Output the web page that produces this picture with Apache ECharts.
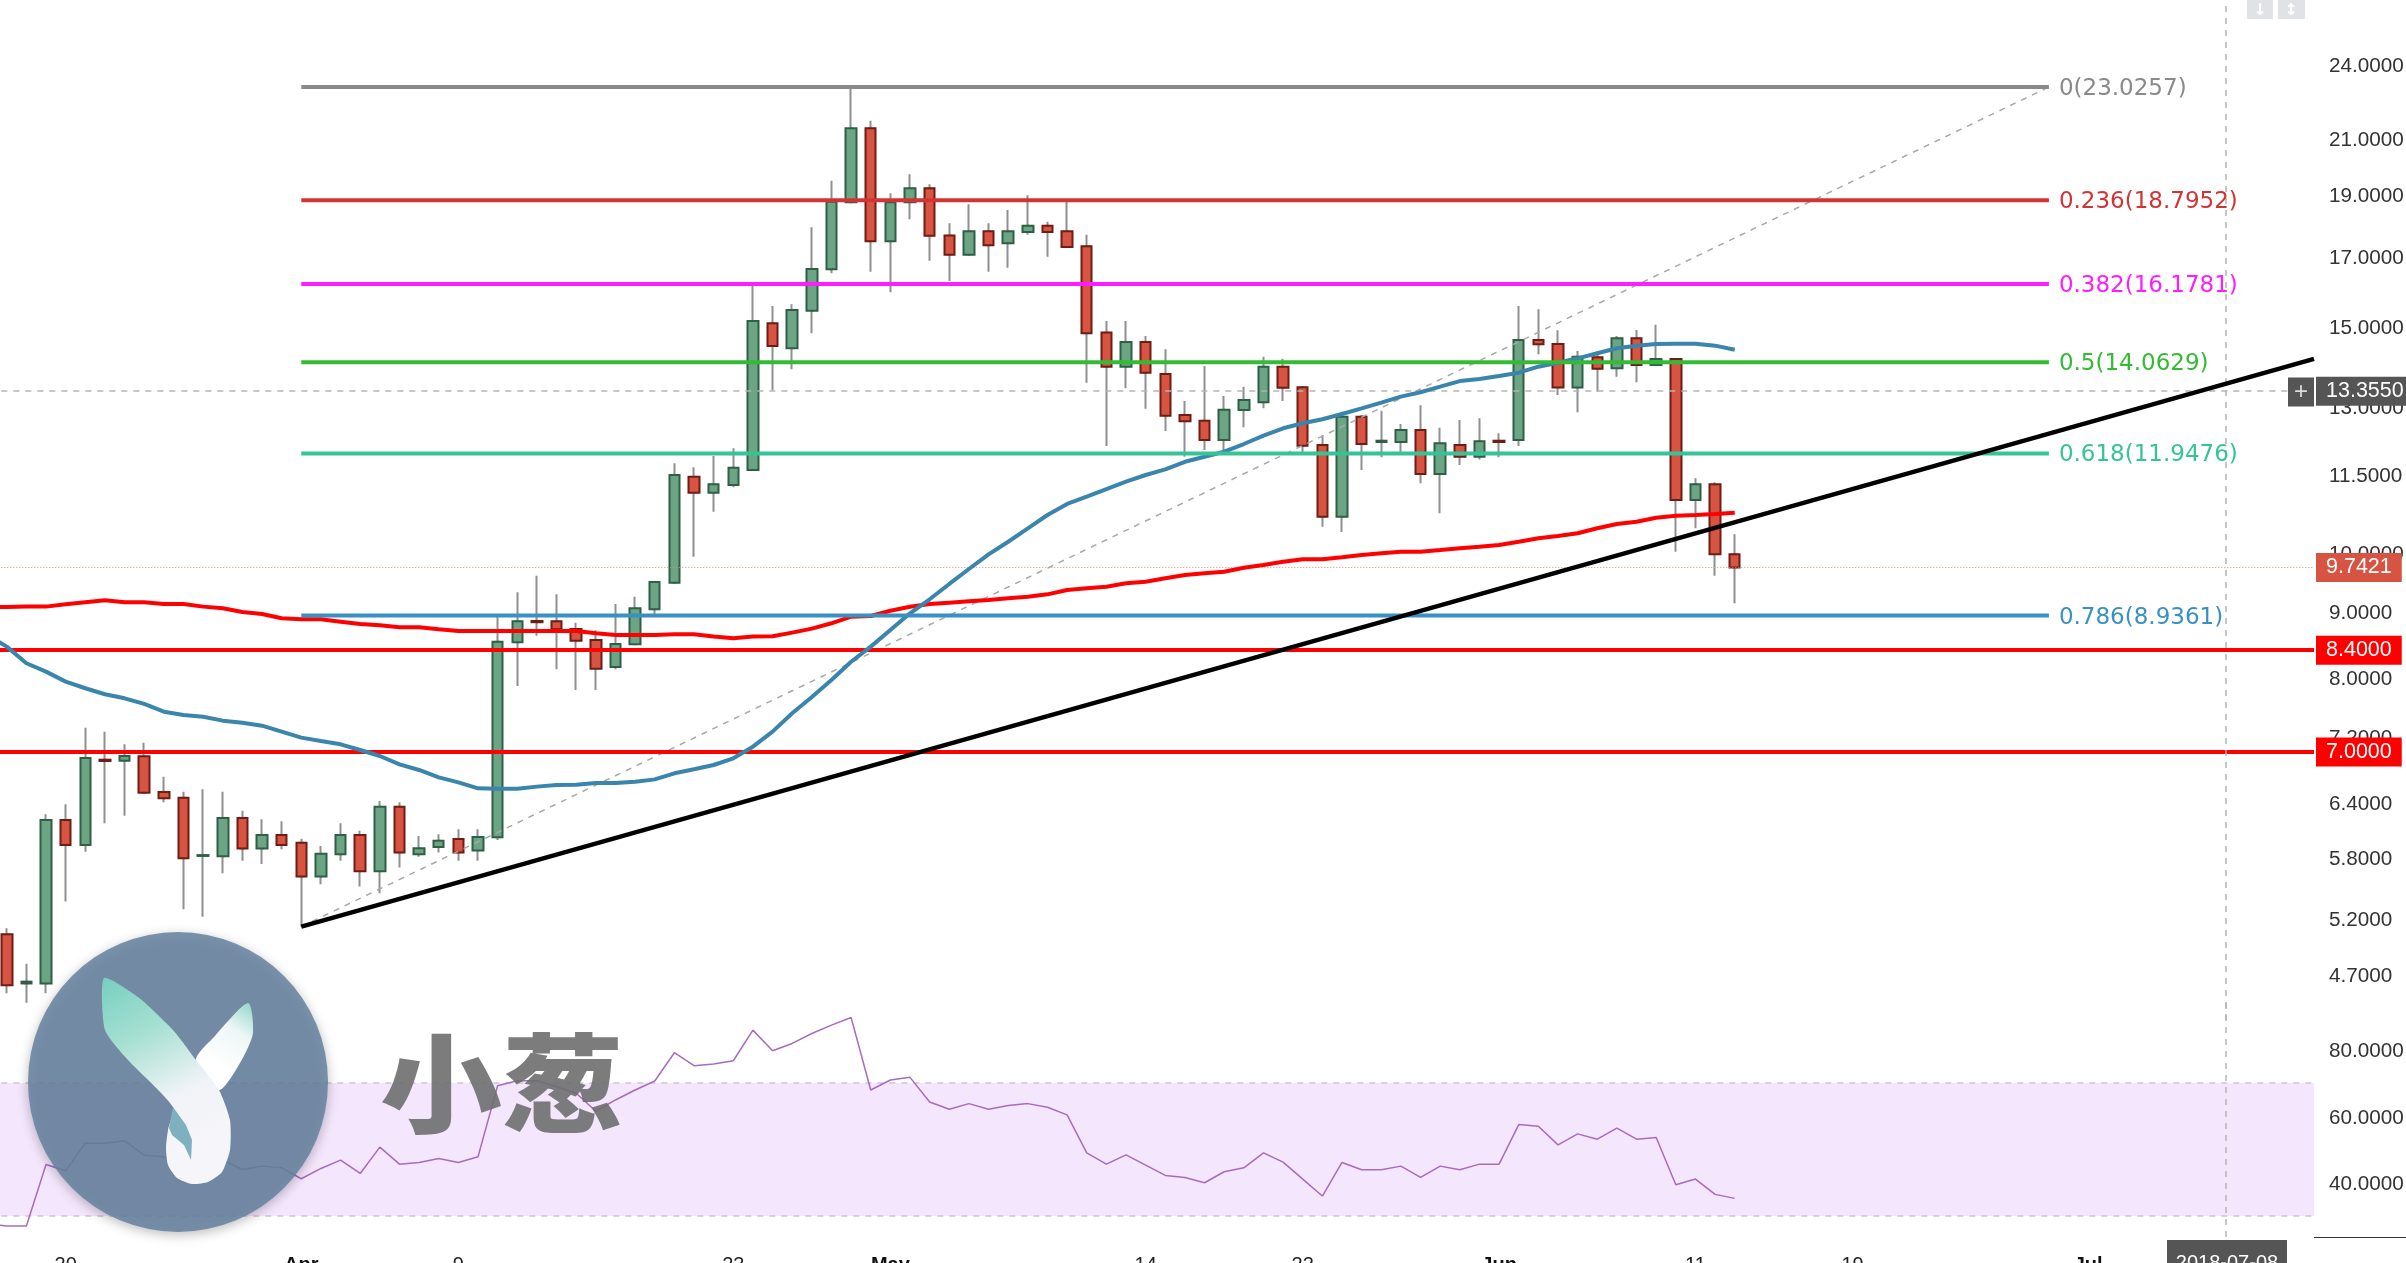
<!DOCTYPE html>
<html><head><meta charset="utf-8">
<style>html,body{margin:0;padding:0;background:#fff;overflow:hidden}#c{width:2406px;height:1263px}</style>
<script src="https://cdn.jsdelivr.net/npm/echarts@6/dist/echarts.min.js"></script>
</head><body><div id="c"></div>
<script>
const categories=[
'2018-03-16','2018-03-17','2018-03-18','2018-03-19','2018-03-20','2018-03-21','2018-03-22','2018-03-23','2018-03-24','2018-03-25','2018-03-26','2018-03-27','2018-03-28','2018-03-29','2018-03-30','2018-03-31',
'2018-04-01','2018-04-02','2018-04-03','2018-04-04','2018-04-05','2018-04-06','2018-04-07','2018-04-08','2018-04-09','2018-04-10','2018-04-11','2018-04-12','2018-04-13','2018-04-14','2018-04-15','2018-04-16','2018-04-17','2018-04-18','2018-04-19','2018-04-20','2018-04-21','2018-04-22','2018-04-23','2018-04-24','2018-04-25','2018-04-26','2018-04-27','2018-04-28','2018-04-29','2018-04-30',
'2018-05-01','2018-05-02','2018-05-03','2018-05-04','2018-05-05','2018-05-06','2018-05-07','2018-05-08','2018-05-09','2018-05-10','2018-05-11','2018-05-12','2018-05-13','2018-05-14','2018-05-15','2018-05-16','2018-05-17','2018-05-18','2018-05-19','2018-05-20','2018-05-21','2018-05-22','2018-05-23','2018-05-24','2018-05-25','2018-05-26','2018-05-27','2018-05-28','2018-05-29','2018-05-30','2018-05-31',
'2018-06-01','2018-06-02','2018-06-03','2018-06-04','2018-06-05','2018-06-06','2018-06-07','2018-06-08','2018-06-09','2018-06-10','2018-06-11','2018-06-12','2018-06-13','2018-06-14','2018-06-15','2018-06-16','2018-06-17','2018-06-18','2018-06-19','2018-06-20','2018-06-21','2018-06-22','2018-06-23','2018-06-24','2018-06-25','2018-06-26','2018-06-27','2018-06-28','2018-06-29','2018-06-30',
'2018-07-01','2018-07-02','2018-07-03','2018-07-04','2018-07-05','2018-07-06','2018-07-07','2018-07-08','2018-07-09','2018-07-10','2018-07-11','2018-07-12'];
const tickDates=['2018-03-20','2018-04-01','2018-04-09','2018-04-23','2018-05-01','2018-05-14','2018-05-22','2018-06-01','2018-06-11','2018-06-19','2018-07-01'];
const tickTexts=['20','Apr','9','23','May','14','22','Jun','11','19','Jul'];
const priceTicks=[24,21,19,17,15,13,11.5,10,9,8,7.2,6.4,5.8,5.2,4.7];
const rsiTicks=[80,60,40];

const opens=[null,5.05,4.625,4.625,6.198,5.926,6.904,6.891,6.947,6.516,6.45,5.811,5.808,6.22,5.888,6.034,
5.951,5.6,5.828,6.034,5.654,6.347,5.828,5.906,5.991,5.867,6.009,8.52,8.851,8.846,8.725,8.553,8.151,8.49,9.037,9.479,11.459,11.135,11.29,11.597,15.082,14.422,15.425,16.612,18.73,21.383,
17.465,18.73,19.206,17.65,17.052,17.782,17.405,17.76,17.962,17.782,17.31,14.832,13.954,14.585,13.773,12.798,12.668,12.238,12.912,13.093,13.954,13.45,12.129,10.667,12.759,12.194,12.194,12.459,11.515,12.129,11.876,
12.222,12.238,14.638,14.533,13.446,14.19,13.913,14.682,13.996,14.147,10.991,11.305,9.976];
const closes=[null,4.61,4.64,6.198,5.926,6.925,6.888,6.95,6.508,6.443,5.787,5.82,6.22,5.888,6.034,5.926,
5.6,5.834,6.034,5.654,6.347,5.846,5.892,5.972,5.846,6.012,8.529,8.846,8.831,8.72,8.544,8.126,8.494,9.054,9.49,11.494,11.135,11.305,11.645,15.144,14.481,15.444,16.622,18.75,21.383,17.465,
18.73,19.206,17.643,17.052,17.782,17.342,17.782,17.962,17.76,17.29,14.814,13.954,14.585,13.805,12.782,12.655,12.238,12.919,13.147,13.954,13.439,12.113,10.667,12.759,12.15,12.222,12.459,11.515,12.165,11.876,12.209,
12.194,14.638,14.525,13.446,14.206,13.904,14.682,13.996,14.147,10.991,11.305,9.972,9.7421];
const lows=[null,4.545,4.467,4.545,5.355,5.855,6.161,6.245,6.508,6.398,5.281,5.212,5.634,5.762,5.728,5.881,
5.12,5.524,5.762,5.501,5.436,5.691,5.804,5.846,5.762,5.762,5.98,7.879,8.621,8.117,7.822,7.822,8.117,8.477,8.919,9.47,9.93,10.762,11.244,11.59,13.384,13.889,14.814,16.495,18.73,16.542,
15.942,18.168,16.869,16.269,17.052,16.542,16.661,17.676,16.991,17.29,13.561,12.106,13.425,12.942,12.437,11.876,12.021,11.95,12.52,12.952,13.123,11.95,10.478,10.378,11.597,11.863,11.95,11.324,10.732,11.701,11.82,
11.863,12.106,14.266,13.264,12.86,13.344,13.707,13.57,13.996,10.02,10.448,9.599,9.136];
const highs=[null,5.105,4.79,6.261,6.374,7.311,7.259,7.097,7.117,6.697,6.519,6.548,6.519,6.301,6.205,6.184,
5.994,5.916,6.161,6.08,6.412,6.398,6.023,6.042,6.095,6.095,8.919,9.316,9.599,9.283,8.824,8.706,9.124,9.244,9.495,11.737,11.653,11.891,12.057,16.125,15.555,15.602,17.911,19.468,23.0257,21.677,
19.035,19.693,19.344,18.039,18.661,18.039,18.472,18.966,18.09,18.774,17.676,15.144,15.144,14.744,14.396,13.123,13.971,13.24,13.464,14.206,14.155,13.47,12.348,12.873,12.798,12.896,12.594,13.021,12.51,12.683,12.722,
12.385,15.555,15.463,14.894,14.353,14.335,14.744,14.903,15.045,14.16,11.426,11.344,10.336];

const maRed=[9.07,9.075,9.081,9.081,9.119,9.152,9.184,9.152,9.152,9.124,9.124,9.081,9.054,8.994,8.963,8.893,
8.877,8.877,8.84,8.803,8.782,8.751,8.751,8.72,8.694,8.694,8.694,8.694,8.694,8.694,8.694,8.658,8.632,8.632,8.632,8.642,8.642,8.607,8.581,8.607,8.612,8.668,8.73,8.814,8.919,8.93,
9.014,9.08,9.124,9.146,9.168,9.19,9.218,9.244,9.283,9.355,9.384,9.41,9.468,9.496,9.554,9.61,9.64,9.667,9.737,9.783,9.841,9.883,9.883,9.919,9.96,9.99,10.02,10.02,10.05,10.081,10.11,
10.14,10.2,10.262,10.305,10.355,10.448,10.529,10.572,10.648,10.686,10.7,10.72,10.744];
const maBlue=[8.632,8.453,8.205,8.083,7.94,7.846,7.762,7.706,7.629,7.524,7.48,7.457,7.404,7.377,7.338,7.26,
7.182,7.139,7.097,7.025,6.95,6.847,6.778,6.689,6.63,6.559,6.555,6.555,6.579,6.598,6.602,6.622,6.622,6.638,6.665,6.738,6.786,6.839,6.921,7.067,7.26,7.502,7.725,7.964,8.228,8.453,
8.71,8.973,9.201,9.457,9.714,9.972,10.2,10.448,10.7,10.913,11.056,11.205,11.357,11.494,11.611,11.77,11.876,11.984,12.15,12.333,12.497,12.609,12.7,12.822,12.952,13.084,13.225,13.33,13.464,13.6,13.649,
13.723,13.805,13.954,14.055,14.165,14.293,14.422,14.49,14.533,14.541,14.541,14.49,14.386];
const rsi=[27.6,27.0,27.0,45.5,43.6,51.9,51.9,52.6,48.3,47.8,42.3,42.3,46.8,44.0,45.0,44.5,
41.2,44.3,46.8,42.8,50.7,45.6,46.1,47.3,46.1,47.8,69.2,70.7,70.7,68.9,66.9,61.5,64.9,67.9,70.6,79.1,75.2,75.7,76.7,85.9,79.7,81.9,84.9,87.4,89.7,67.9,
70.9,71.7,64.3,62.1,63.8,62.1,63.2,63.8,62.7,60.4,49.0,45.6,48.4,45.3,42.2,41.6,40.0,43.3,44.5,49.0,46.2,41.1,36.0,46.1,43.9,43.9,45.0,41.6,45.0,43.9,45.6,
45.6,57.5,57.0,51.4,54.7,53.1,56.4,53.1,53.6,39.4,41.1,36.5,35.3];

const fibRatios=['0','0.236','0.382','0.5','0.618','0.786'];
const fibLevels=[23.0257,18.7952,16.1781,14.0629,11.9476,8.9361];
const fibColors=['#8a8a8a','#d23434','#ff1cff','#33bb33','#35c496','#3990c2'];
const fibSpanDays=[0,89];          // days after 1 Apr
const fibLow=5.12;
const trendDays=[0,102.5], trendPrices=[5.12,14.15];
const levelRed=[8.4,7.0];
const lastPrice=9.7421, crossPrice=13.355, crossDate='2018-07-08';

const SANS='"Liberation Sans",Arial,sans-serif';
const ohlc=opens.map((o,i)=>o==null?['-','-','-','-']:[o,closes[i],lows[i],highs[i]]);
const bodies=opens.map((o,i)=>o==null?['-','-','-','-']:[o,closes[i],Math.min(o,closes[i]),Math.max(o,closes[i])]);
const mainAxes={xAxisIndex:0,yAxisIndex:0}, overlayAxes={xAxisIndex:2,yAxisIndex:0}, rsiAxes={xAxisIndex:1,yAxisIndex:1};
const tagLabel=(text,bg)=>({show:true,position:'end',distance:2,formatter:text,color:'#fff',backgroundColor:bg,fontFamily:SANS,fontSize:21.5,padding:[5,10,2,10]});
const yLabel=values=>({customValues:values,margin:15,color:'#333',fontFamily:SANS,fontSize:20.7,
  formatter:v=>'{a|'+Number(v).toFixed(4)+'}',
  rich:{a:{color:'#333',fontFamily:SANS,fontSize:20.7,padding:[4,0,0,0]}}});

const series=[
 {type:'candlestick',name:'wick',...mainAxes,data:ohlc,barWidth:2,z:2,silent:true,
  itemStyle:{color:'#8f8f8f',color0:'#8f8f8f',borderColor:'#8f8f8f',borderColor0:'#8f8f8f',borderWidth:2}},
 {type:'candlestick',name:'price',...mainAxes,data:bodies,barWidth:11,z:3,silent:true,
  itemStyle:{color:'#6ba583',color0:'#d75442',borderColor:'#2f5f47',borderColor0:'#6e1d14',borderWidth:2}},
 {type:'line',name:'MA red',...mainAxes,data:maRed,symbol:'none',z:5,silent:true,lineStyle:{color:'#ff0000',width:4},
  markLine:{silent:true,symbol:'none',animation:false,precision:4,data:[
    {yAxis:crossPrice,lineStyle:{color:'#b4b4b4',width:1.5,type:[6,6]},label:tagLabel(crossPrice.toFixed(4),'#555555')},
    {yAxis:lastPrice,lineStyle:{color:'#e8877a',width:1,type:[1,2]},label:tagLabel(lastPrice.toFixed(4),'#d75442')},
    {yAxis:levelRed[0],lineStyle:{color:'#ff0000',width:4,type:'solid'},label:tagLabel(levelRed[0].toFixed(4),'#ff0000')},
    {yAxis:levelRed[1],lineStyle:{color:'#ff0000',width:4,type:'solid'},label:tagLabel(levelRed[1].toFixed(4),'#ff0000')},
    {xAxis:crossDate,lineStyle:{color:'#b4b4b4',width:1.5,type:[6,6]},label:{show:false}}
  ]}},
 {type:'line',name:'MA blue',...mainAxes,data:maBlue,symbol:'none',z:5,silent:true,lineStyle:{color:'#3a85ab',width:4}},
 {type:'line',name:'fib diagonal',...overlayAxes,data:[[fibSpanDays[0],fibLow],[fibSpanDays[1],fibLevels[0]]],symbol:'none',z:4,silent:true,lineStyle:{color:'#a8a8a8',width:1.5,type:[6,6]}},
 {type:'line',name:'trend',...overlayAxes,data:[[trendDays[0],trendPrices[0]],[trendDays[1],trendPrices[1]]],symbol:'none',z:6,silent:true,lineStyle:{color:'#000',width:4.5}},
 ...fibLevels.map((lv,i)=>({type:'line',name:'fib '+fibRatios[i],...overlayAxes,
   data:[[fibSpanDays[0],lv],[fibSpanDays[1],lv]],symbol:'none',z:5,silent:true,
   lineStyle:{color:fibColors[i],width:4},
   endLabel:{show:true,distance:10,offset:[0,2],formatter:fibRatios[i]+'('+lv.toFixed(4)+')',color:fibColors[i],fontFamily:'"DejaVu Sans",sans-serif',fontSize:23}})),
 {type:'line',name:'RSI',...rsiAxes,data:rsi,symbol:'none',z:5,silent:true,lineStyle:{color:'#a86bc0',width:1.5},
  markArea:{silent:true,animation:false,itemStyle:{color:'#f4e6fd',opacity:1},data:[[{yAxis:30},{yAxis:70}]]},
  markLine:{silent:true,symbol:'none',animation:false,label:{show:false},data:[
    {yAxis:70,lineStyle:{color:'#d0c2d8',width:1.5,type:[6,6]}},
    {yAxis:30,lineStyle:{color:'#d0c2d8',width:1.5,type:[6,6]}},
    {xAxis:crossDate,lineStyle:{color:'#b4b4b4',width:1.5,type:[6,6]}}
  ]}}
];

const option={
 backgroundColor:'#ffffff',animation:false,
 grid:[{left:-22.7,right:92,top:0,height:1020,outerBoundsMode:'none'},{left:-22.7,right:92,top:1000,height:237,outerBoundsMode:'none'}],
 xAxis:[
  {type:'category',gridIndex:0,data:categories,show:false},
  {type:'category',gridIndex:1,data:categories,axisLine:{show:false},axisTick:{show:false},splitLine:{show:false},
   axisLabel:{margin:18,color:'#222',fontFamily:SANS,fontSize:20,verticalAlign:'top',
    interval:(i,v)=>tickDates.includes(v),
    formatter:v=>{const t=tickTexts[tickDates.indexOf(v)];return /[A-Za-z]/.test(t)?'{m|'+t+'}':t;},
    rich:{m:{fontWeight:'bold',fontFamily:SANS,fontSize:20,color:'#111',verticalAlign:'top'}}}},
  {type:'value',gridIndex:0,min:-16.5,max:102.5,show:false}
 ],
 yAxis:[
  {type:'log',logBase:10,gridIndex:0,position:'right',min:4.332,max:26.906,axisLine:{show:false},splitLine:{show:false},minorSplitLine:{show:false},
   axisTick:{show:false},axisLabel:yLabel(priceTicks)},
  {type:'value',gridIndex:1,position:'right',min:23.684,max:94.962,axisLine:{show:false},splitLine:{show:false},
   axisTick:{show:false},axisLabel:yLabel(rsiTicks)}
 ],
 series,
 graphic:[
  {type:'rect',z:50,shape:{x:2288,y:377.5,width:26,height:29},style:{fill:'#555555'}},
  {type:'text',z:51,style:{x:2301,y:392,text:'+',fill:'#dddddd',font:'24px '+SANS,textAlign:'center',textVerticalAlign:'middle'}},
  {type:'rect',z:50,shape:{x:2167,y:1240,width:120,height:23},style:{fill:'#555555'}},
  {type:'text',z:51,style:{x:2227,y:1253,text:'2018-07-08',fill:'#fff',font:'20px '+SANS,textAlign:'center',textVerticalAlign:'top'}},
  {type:'line',z:50,shape:{x1:2314,y1:1237.5,x2:2406,y2:1237.5},style:{stroke:'#333',lineWidth:1}},
  {type:'rect',z:50,shape:{x:2247,y:0,width:26,height:19},style:{fill:'#dfe3e6'}},
  {type:'rect',z:50,shape:{x:2278,y:0,width:27,height:19},style:{fill:'#dfe3e6'}},
  {type:'text',z:51,style:{x:2260,y:3,text:'↓',fill:'#fff',font:'bold 16px "DejaVu Sans"',textAlign:'center',textVerticalAlign:'top'}},
  {type:'text',z:51,style:{x:2291,y:3,text:'↕',fill:'#fff',font:'bold 16px "DejaVu Sans"',textAlign:'center',textVerticalAlign:'top'}},
  {type:'circle',z:60,shape:{cx:178,cy:1082,r:150},style:{fill:'rgba(101,129,158,0.86)',shadowBlur:12,shadowColor:'rgba(0,0,0,0.3)',shadowOffsetY:3}},
  {type:'polygon',z:61,shape:{smooth:0.25,points:[[248,1003],[253,1033],[240,1063],[219,1090],[196,1060],[214,1037]]},
   style:{fill:{type:'linear',x:1,y:0,x2:0.3,y2:0.7,colorStops:[{offset:0,color:'#8fd5c9'},{offset:0.45,color:'#eef7f6'},{offset:1,color:'#ffffff'}]}}},
  {type:'polygon',z:62,shape:{smooth:0.2,points:[[104,978],[138,997],[173,1030],[196,1060],[219,1090],[230,1120],[230,1150],[222,1172],[208,1182],[192,1184],[177,1178],[168,1165],[166,1148],[168,1130],[173,1107],[128,1060],[105,1030]]},
   style:{fill:{type:'linear',x:0,y:0,x2:0.7,y2:0.85,colorStops:[{offset:0,color:'#76cfc0'},{offset:0.35,color:'#a7e0d2'},{offset:0.7,color:'#f0f3f7'},{offset:1,color:'#f6f5fa'}]}}},
  {type:'polygon',z:63,shape:{points:[[173,1107],[186,1125],[192,1140],[191,1160],[184,1145],[172,1135],[169,1128]]},style:{fill:'#7fb0bf'}},
  {type:'text',z:60,x:380,y:1083,originX:0,originY:0,scaleX:1,scaleY:0.88,style:{x:0,y:0,text:'小葱',fill:'#6e6e6e',opacity:0.9,font:'900 122px "Noto Sans CJK SC"',textVerticalAlign:'middle',shadowBlur:6,shadowColor:'rgba(0,0,0,0.25)',shadowOffsetY:2}}
 ]
};
const chart=echarts.init(document.getElementById('c'),null,{renderer:'canvas',width:2406,height:1263});
chart.setOption(option);
</script></body></html>
